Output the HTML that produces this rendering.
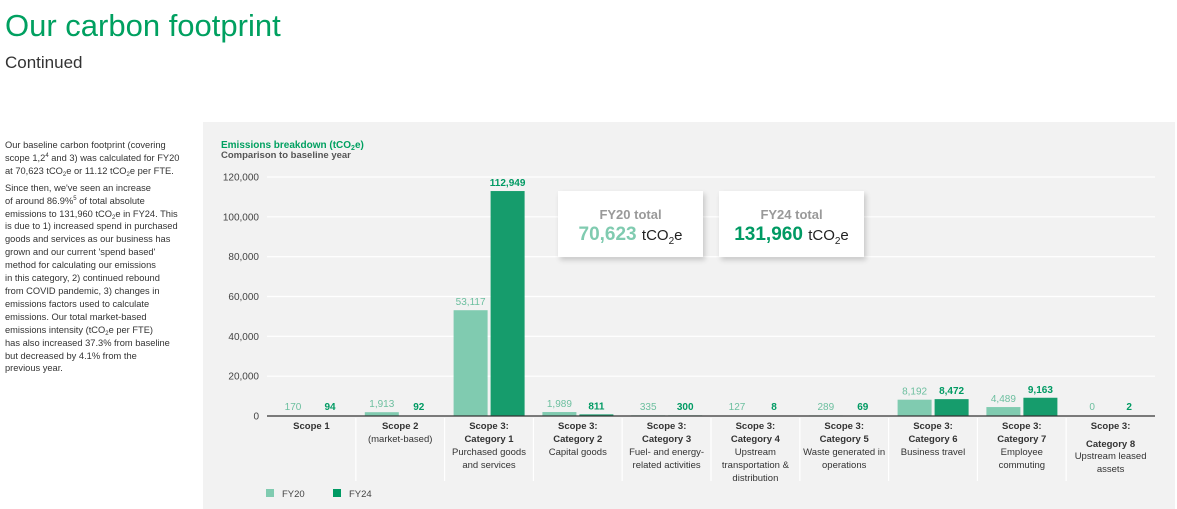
<!DOCTYPE html>
<html><head><meta charset="utf-8">
<style>
body{margin:0;width:1177px;height:509px;background:#fff;font-family:"Liberation Sans",sans-serif;overflow:hidden;position:relative}
#title{position:absolute;left:5px;top:8px;font-size:31px;color:#00a060;margin:0;font-weight:normal}
#sub{position:absolute;left:5px;top:53px;font-size:17px;color:#333}
#intro{position:absolute;left:5px;top:139px;font-size:9.3px;line-height:12.9px;color:#333;width:195px}
#intro p{margin:0 0 4px 0}
#intro sub,#intro sup{font-size:6px;line-height:0;position:relative;vertical-align:baseline}
#intro sub{top:2px}
#intro sup{top:-4px}
#panel{position:absolute;left:203px;top:122px;width:972px;height:387px;background:#f2f2f2}
.box{position:absolute;top:191px;width:145px;height:66px;background:#fff;box-shadow:2px 3px 5px rgba(0,0,0,.18);text-align:center}
.box .h{font-size:13px;color:#999;margin-top:16px;font-weight:bold}
.box .v{font-size:19px;font-weight:bold;margin-top:2px}
.box .u{font-size:15px;color:#222;font-weight:normal}
</style></head><body>
<h1 id="title">Our carbon footprint</h1>
<div id="sub">Continued</div>
<div id="intro">
<p>Our baseline carbon footprint (covering<br>scope 1,2<sup>4</sup> and 3) was calculated for FY20<br>at 70,623 tCO<sub>2</sub>e or 11.12 tCO<sub>2</sub>e per FTE.</p>
<p>Since then, we've seen an increase<br>of around 86.9%<sup>5</sup> of total absolute<br>emissions to 131,960 tCO<sub>2</sub>e in FY24. This<br>is due to 1) increased spend in purchased<br>goods and services as our business has<br>grown and our current 'spend based'<br>method for calculating our emissions<br>in this category, 2) continued rebound<br>from COVID pandemic, 3) changes in<br>emissions factors used to calculate<br>emissions. Our total market-based<br>emissions intensity (tCO<sub>2</sub>e per FTE)<br>has also increased 37.3% from baseline<br>but decreased by 4.1% from the<br>previous year.</p>
</div>
<div id="panel"></div>
<svg id="chart" width="1177" height="509" style="position:absolute;left:0;top:0">
<text x="221" y="148" font-size="10" font-weight="bold" fill="#00a060">Emissions breakdown (tCO<tspan font-size="7" dy="2">2</tspan><tspan dy="-2">e)</tspan></text>
<text x="221" y="158" font-size="9.5" font-weight="bold" fill="#555">Comparison to baseline year</text>
<g id="grid"></g><g id="bars"></g><g id="cats"></g>
<rect x="266" y="489" width="8" height="8" fill="#80cbb0"/>
<text x="282" y="497" font-size="9.5" fill="#444">FY20</text>
<rect x="333" y="489" width="8" height="8" fill="#009a63"/>
<text x="349" y="497" font-size="9.5" fill="#444">FY24</text>
</svg>
<div class="box" style="left:558px"><div class="h">FY20 total</div><div class="v" style="color:#80cbb0">70,623 <span class="u">tCO<sub style="font-size:10px">2</sub>e</span></div></div>
<div class="box" style="left:719px"><div class="h">FY24 total</div><div class="v" style="color:#009a63">131,960 <span class="u">tCO<sub style="font-size:10px">2</sub>e</span></div></div>
<script>
const categories=[["b:Scope 1"],["b:Scope 2","(market-based)"],["b:Scope 3:","b:Category 1","Purchased goods","and services"],["b:Scope 3:","b:Category 2","Capital goods"],["b:Scope 3:","b:Category 3","Fuel- and energy-","related activities"],["b:Scope 3:","b:Category 4","Upstream","transportation &","distribution"],["b:Scope 3:","b:Category 5","Waste generated in","operations"],["b:Scope 3:","b:Category 6","Business travel"],["b:Scope 3:","b:Category 7","Employee","commuting"],["b:Scope 3:","b:Category 8","Upstream leased","assets"]];
const fy20=[170,1913,53117,1989,335,127,289,8192,4489,0];
const fy24=[94,92,112949,811,300,8,69,8472,9163,2];
const ticks=[0,20000,40000,60000,80000,100000,120000];
const NS="http://www.w3.org/2000/svg";
const X0=267,GW=88.8,Y0=416,YS=239/120000;
const y=v=>Y0-v*YS;
const gx=i=>X0+i*GW;
function el(t,a,p,txt){const e=document.createElementNS(NS,t);for(const k in a)e.setAttribute(k,a[k]);if(txt!==undefined)e.textContent=txt;p.appendChild(e);return e;}
const grid=document.getElementById('grid'),bars=document.getElementById('bars'),cats=document.getElementById('cats');
ticks.forEach(t=>{
 if(t>0){const l=el('line',{x1:X0,x2:X0+10*GW,y1:y(t),y2:y(t),stroke:'#fff','stroke-width':1.2},grid);
 
 }
 const tx=el('text',{x:259,y:y(t)+3.5,'font-size':10,fill:'#444','text-anchor':'end'},grid,t.toLocaleString('en-US'));
 
 
});
const fmt=v=>v.toLocaleString('en-US');
categories.forEach((c,i)=>{
 [[fy20,'#80cbb0','#6cbf9f',9],[fy24,'#009a63','#009a63',46]].forEach(([arr,col,tcol,off],s)=>{
  const v=arr[i],top=y(v),bx=gx(i)+off;
  const r=el('rect',{x:bx,y:top,width:34,height:Y0-top,fill:s?'#169c6c':col},bars);
  
  
  const ly=Math.min(top-5,410);
  const t=el('text',{x:bx+17,y:ly,'font-size':10,'font-weight':s?'bold':'normal',fill:tcol,'text-anchor':'middle'},bars,fmt(v));
  
  
 });
 if(i>0){const d=el('line',{x1:gx(i),x2:gx(i),y1:418,y2:481,stroke:'#fff','stroke-width':1.2},cats);
  
  }
 c.forEach((ln,j)=>{
  const b=ln.startsWith('b:');const txt=b?ln.slice(2):ln;
  let yy=429+j*13; if(i===9&&j>0) yy+=5-(j>1?1:0);
  const t=el('text',{x:gx(i)+GW/2,y:yy,'font-size':9.5,'font-weight':b?'bold':'normal',fill:'#333','text-anchor':'middle'},cats,txt);
  
  
 });
});
const ax=el('line',{x1:X0,x2:X0+10*GW,y1:Y0,y2:Y0,stroke:'#333','stroke-width':1.3},bars);


</script>
</body></html>
